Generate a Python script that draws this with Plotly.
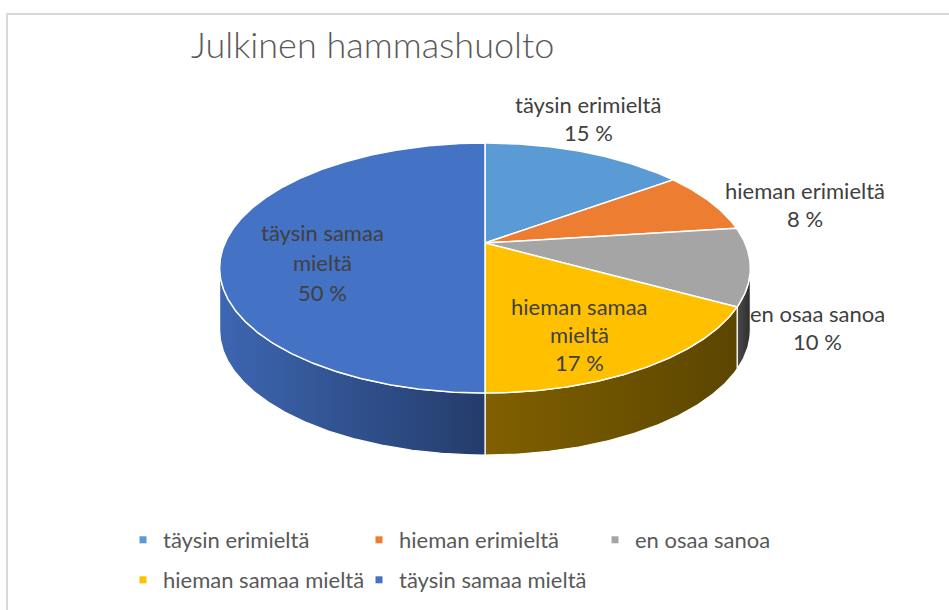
import numpy as np
import plotly.graph_objects as go

# ---------------- data ----------------
categories = ["täysin erimieltä", "hieman erimieltä", "en osaa sanoa",
              "hieman samaa mieltä", "täysin samaa mieltä"]
values = [15, 8, 10, 17, 50]
label_lines = [["täysin erimieltä"], ["hieman erimieltä"], ["en osaa sanoa"],
               ["hieman samaa", "mieltä"], ["täysin samaa", "mieltä"]]
title_text = "Julkinen hammashuolto"

# ---------------- styles / layout ----------------
top_colors = ["#5B9BD5", "#ED7D31", "#A5A5A5", "#FFC000", "#4472C4"]
side_colors = [("#4A80B8", "#2E5A86"), ("#BE6428", "#8E4A1C"), ("#4A4A4A", "#2E2E2E"),
               ("#806000", "#5B4500"), ("#3D66B2", "#243C6A")]
label_pos = [(588, 118), (805, 204), (817, 327), (579, 334), (322, 262)]
label_dy = [28, 28, 28, 28, 30]
W, H = 949, 610
CX, CY = 485, 243          # apex of pie on screen
RX, RY, K = 260, 120, 0.2  # perspective ellipse parameters
DEPTH = 62                 # thickness of the pie
FONT = "Lato"


def proj(theta_deg, dz=0.0):
    t = np.radians(theta_deg)
    u, v = np.sin(t), np.cos(t)
    d = 1 + K * v
    return CX + RX * u / d, CY - RY * v / d + dz


total = float(sum(values))
bounds = np.concatenate([[0], np.cumsum(values)]) / total * 360.0
vis_a = np.degrees(np.arccos(-K))
vis_b = 360 - vis_a

fig = go.Figure()

# side walls (front, visible part)
for i, (a, b) in enumerate(zip(bounds[:-1], bounds[1:])):
    lo, hi = max(a, vis_a), min(b, vis_b)
    if hi <= lo:
        continue
    th = np.linspace(lo, hi, int((hi - lo) * 2) + 2)
    xt, yt = proj(th)
    xb, yb = proj(th[::-1], DEPTH)
    xs = np.concatenate([xt, xb, xt[:1]])
    ys = np.concatenate([yt, yb, yt[:1]])
    c1, c2 = side_colors[i]
    fig.add_trace(go.Scatter(
        x=xs, y=ys, mode="lines", fill="toself",
        line=dict(color="white", width=1.2),
        fillgradient=dict(type="horizontal", colorscale=[[0, c1], [1, c2]]),
        hoverinfo="skip", showlegend=False))

# top faces
for i, (a, b) in enumerate(zip(bounds[:-1], bounds[1:])):
    th = np.linspace(a, b, int((b - a) * 2) + 2)
    xt, yt = proj(th)
    xs = np.concatenate([[CX], xt, [CX]])
    ys = np.concatenate([[CY], yt, [CY]])
    fig.add_trace(go.Scatter(
        x=xs, y=ys, mode="lines", fill="toself", fillcolor=top_colors[i],
        line=dict(color="white", width=1.5),
        hoverinfo="text", text=f"{categories[i]}: {values[i]} %",
        showlegend=False))

# data labels
for i, lines in enumerate(label_lines):
    all_lines = lines + [f"{values[i]} %"]
    x0, y0 = label_pos[i]
    n = len(all_lines)
    for j, ln in enumerate(all_lines):
        fig.add_annotation(x=x0, y=y0 + (j - (n - 1) / 2) * label_dy[i], text=ln,
                           showarrow=False, xanchor="center", yanchor="middle",
                           font=dict(family=FONT, size=22, color="#404040"))

# legend entries (two rows, aligned in columns)
for i, cat in enumerate(categories):
    fig.add_trace(go.Scatter(
        x=[None], y=[None], mode="markers", name=cat,
        marker=dict(symbol="square", size=7, color=top_colors[i]),
        legend="legend" if i < 3 else "legend2"))

legend_common = dict(orientation="h", font=dict(family=FONT, size=22, color="#595959"),
                     bgcolor="rgba(0,0,0,0)", itemwidth=30, tracegroupgap=0,
                     entrywidth=191, x=123 / W,
                     xanchor="left", yanchor="middle", xref="paper", yref="paper")

fig.update_layout(
    width=W, height=H,
    margin=dict(l=0, r=0, t=0, b=0),
    paper_bgcolor="white", plot_bgcolor="white",
    xaxis=dict(range=[0, W], visible=False, fixedrange=True),
    yaxis=dict(range=[H, 0], visible=False, fixedrange=True),
    title=dict(text=title_text, x=191 / W, xanchor="left", y=1 - 45 / H, yanchor="middle",
               xref="paper", yref="container",
               font=dict(family=FONT, size=36, color="#595959", weight=300)),
    legend=dict(y=1 - 540 / H, **legend_common),
    legend2=dict(y=1 - 580 / H, **legend_common),
    shapes=[dict(type="rect", xref="x", yref="y", x0=7, y0=14, x1=W + 20, y1=H + 20,
                 line=dict(color="#D9D9D9", width=2), fillcolor="rgba(0,0,0,0)", layer="below")],
    hovermode="closest",
)

fig.write_html("out.html", config={"displayModeBar": False},
               post_script="document.body.style.margin='0';document.body.style.overflow='hidden';")
